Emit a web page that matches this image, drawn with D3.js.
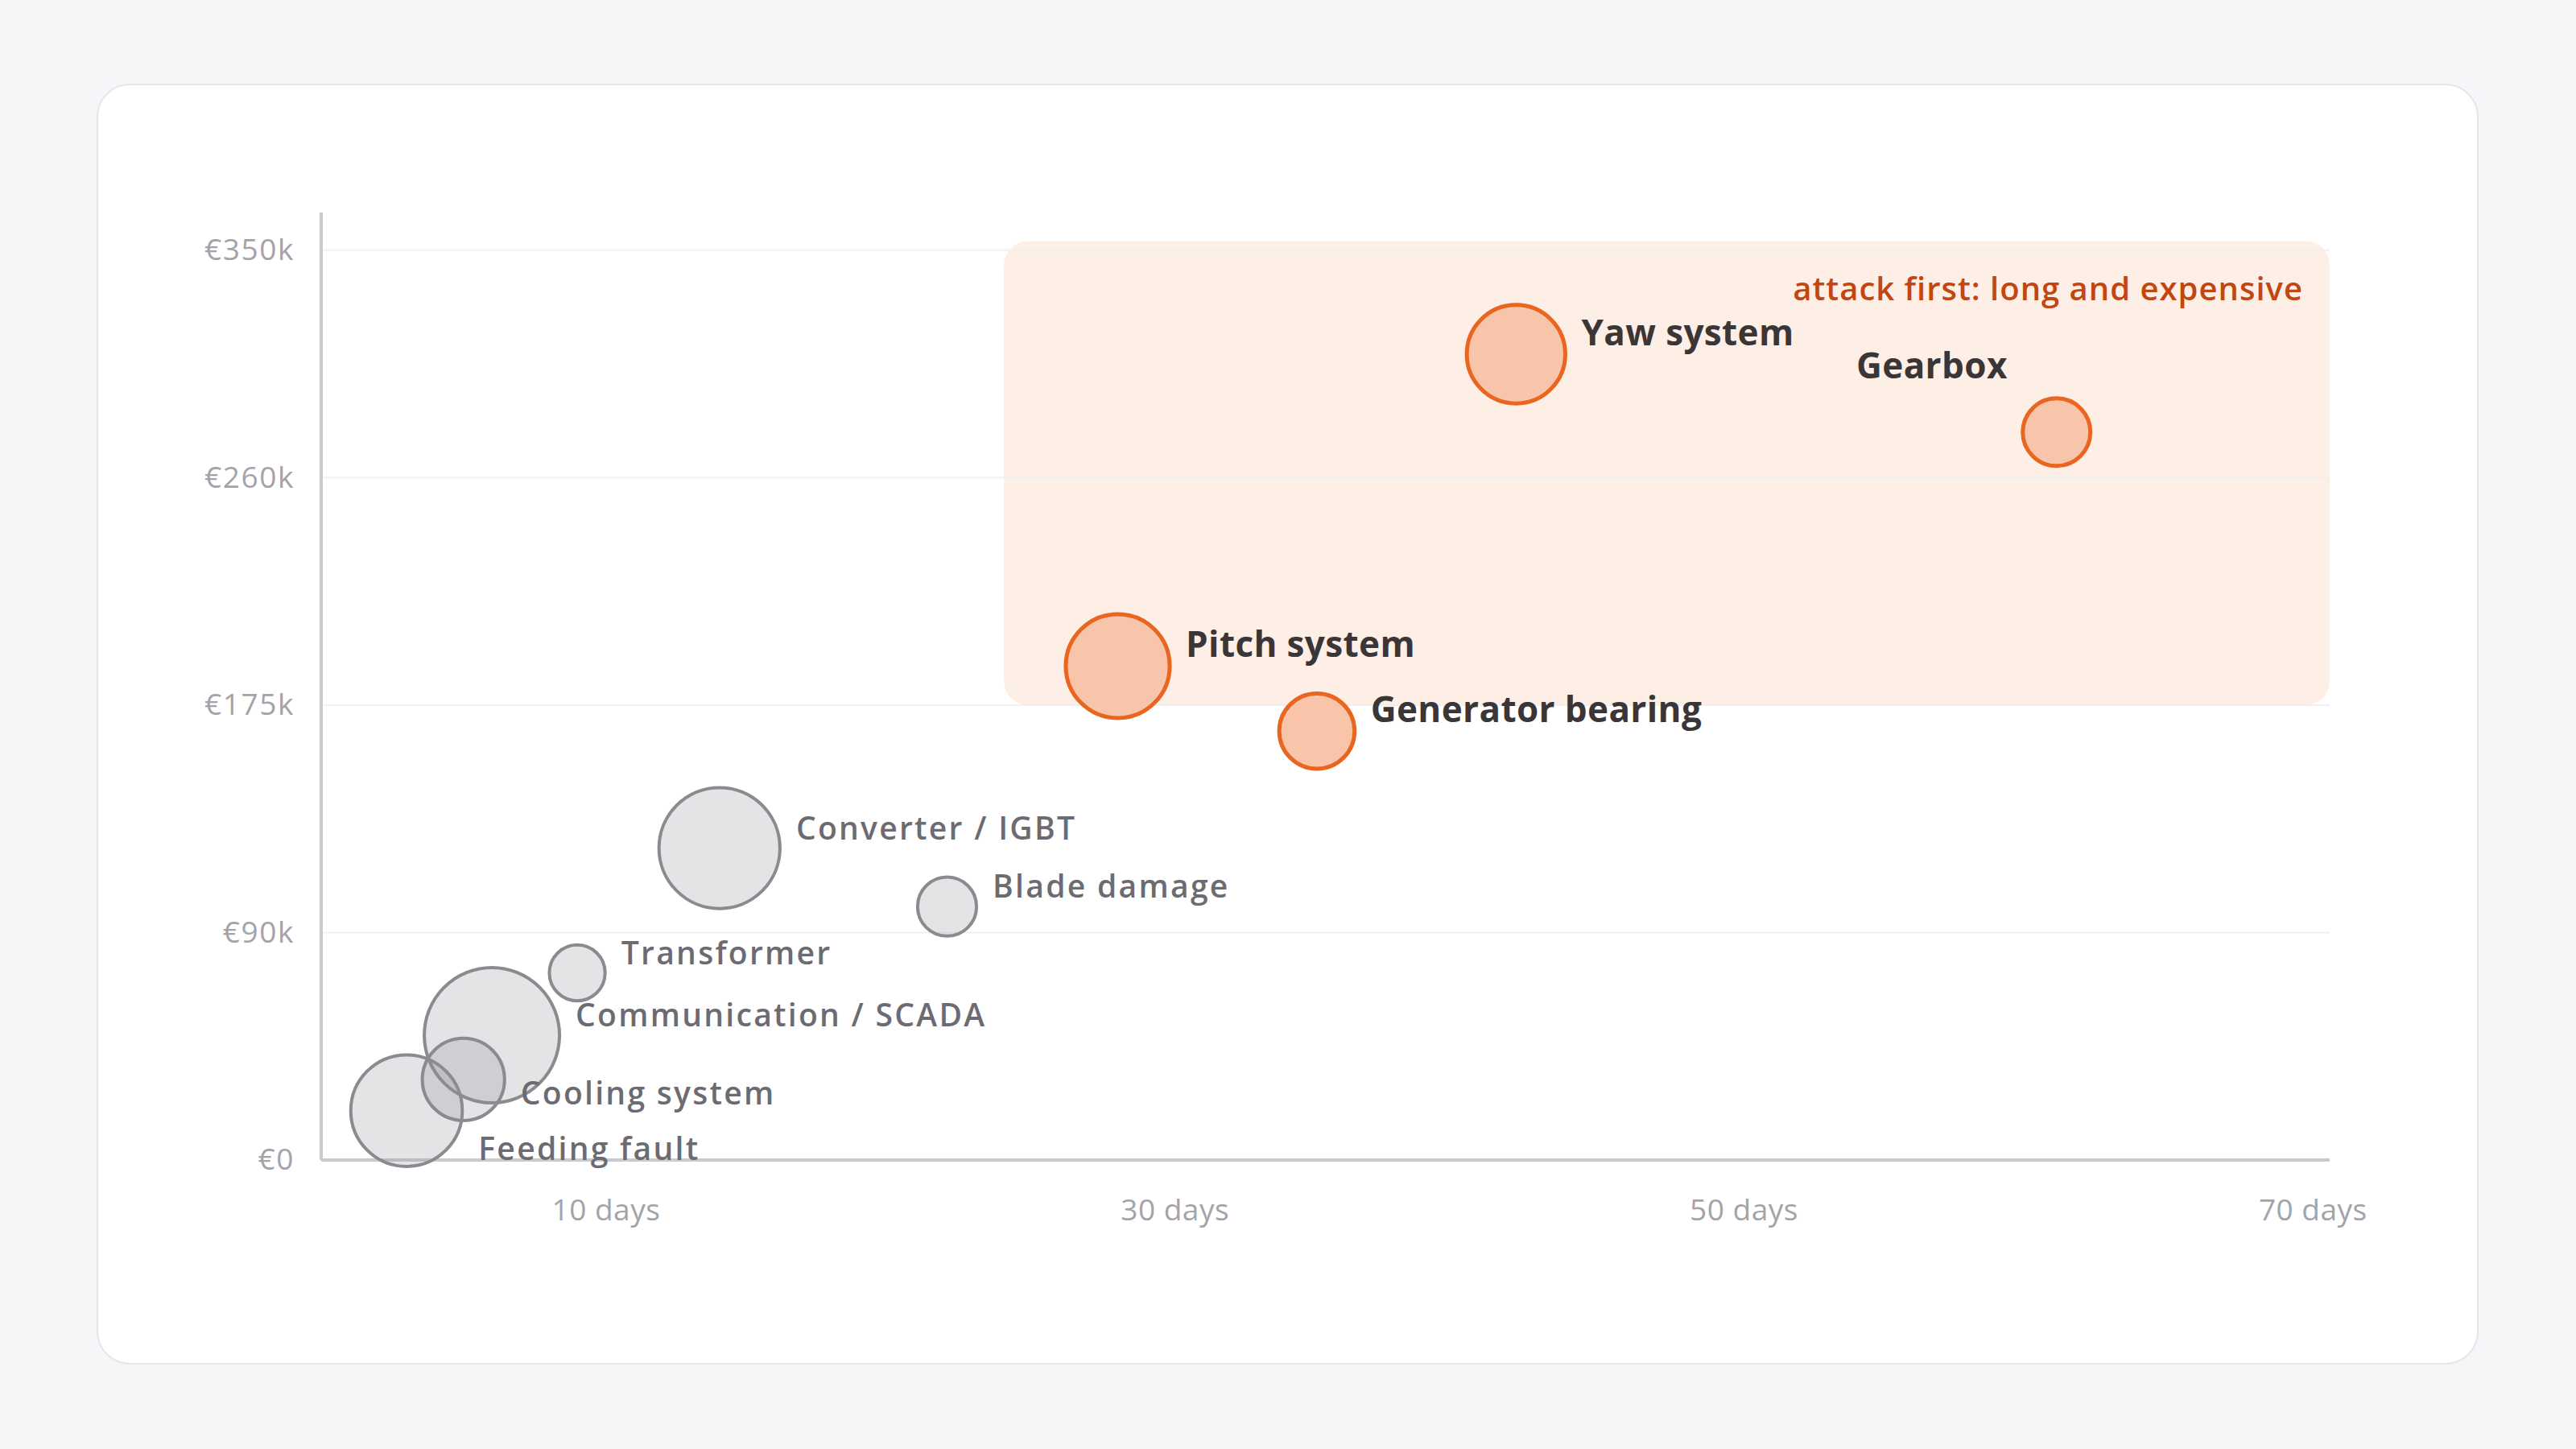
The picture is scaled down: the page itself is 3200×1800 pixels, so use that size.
<!DOCTYPE html>
<html><head><meta charset="utf-8">
<script src="https://cdn.jsdelivr.net/npm/d3@7"></script>
<style>
html,body{margin:0;padding:0;background:#f6f5f8;}
svg{display:block;}
</style></head><body>
<svg id="chart" width="3200" height="1800"></svg>
<script>
// ---- data ----
const components   = ["Feeding fault","Cooling system","Communication / SCADA","Transformer","Converter / IGBT","Blade damage","Pitch system","Generator bearing","Yaw system","Gearbox"];
const downtimeDays = [3, 5, 6, 9, 14, 22, 28, 35, 42, 61];
const costEur      = [19000, 31000, 48000, 72000, 120000, 97500, 190000, 165000, 310000, 280000];
const events       = [68, 37, 100, 17, 80, 19, 59, 31, 53, 25];
const priority     = [false,false,false,false,false,false,true,true,true,true];
const yTickValues  = [0, 87500, 175000, 262500, 350000];
const yTickLabels  = ["€0","€90k","€175k","€260k","€350k"];
const xTickValues  = [10, 30, 50, 70];
const xTickLabels  = ["10 days","30 days","50 days","70 days"];
const zoneDays     = [24, 70.6];
const zoneCost     = [175000, 353500];
const zoneNote     = "attack first: long and expensive";

// ---- layout / style ----
const W = 3200, H = 1800;
const FONT = "'Open Sans', 'Noto Sans', sans-serif";
const svg = d3.select("#chart");

svg.append("rect").attr("x",0).attr("y",0).attr("width",W).attr("height",H).attr("fill","#f6f5f8");
svg.append("rect").attr("x",121).attr("y",105).attr("width",2957).attr("height",1589)
  .attr("rx",40).attr("fill","#ffffff").attr("stroke","#e7e5eb").attr("stroke-width",2);

const x = d3.scaleLinear().domain([0, 70.6]).range([399, 2894]);
const y = d3.scaleLinear().domain([0, 364500]).range([1441, 264]);
const r = d3.scaleSqrt().domain([0, 100]).range([0, 84]);

const data = components.map((name,i)=>({name, days:downtimeDays[i], cost:costEur[i], ev:events[i], hot:priority[i]}));

// zone
svg.append("rect")
  .attr("x", x(zoneDays[0])).attr("y", y(zoneCost[1]))
  .attr("width", x(zoneDays[1]) - x(zoneDays[0]))
  .attr("height", y(zoneCost[0]) - y(zoneCost[1]))
  .attr("rx", 30).attr("fill", "#fdeee6");

// grid
svg.append("g").selectAll("line").data(yTickValues.slice(1)).join("line")
  .attr("x1", x(0)).attr("x2", x(70.6))
  .attr("y1", d=>y(d)).attr("y2", d=>y(d))
  .attr("stroke", "#eeedf1").attr("stroke-opacity",0.9).attr("stroke-width", 2);

// axes
const yAxis = d3.axisLeft(y).tickValues(yTickValues).tickFormat((d,i)=>yTickLabels[i]).tickSize(0).tickPadding(33);
const gy = svg.append("g").attr("transform", `translate(${x(0)},0)`).call(yAxis);
gy.select(".domain").remove();
gy.selectAll("text").attr("font-family", FONT).attr("font-size", 37).attr("fill", "#a4a3a9").attr("letter-spacing", 1.6);

const xAxis = d3.axisBottom(x).tickValues(xTickValues).tickFormat((d,i)=>xTickLabels[i]).tickSize(0).tickPadding(49);
const gx = svg.append("g").attr("transform", `translate(0,${y(0)})`).call(xAxis);
gx.select(".domain").remove();
gx.selectAll("text").attr("font-family", FONT).attr("font-size", 37).attr("fill", "#a4a3a9").attr("letter-spacing", 0.5);

svg.append("line").attr("x1", x(0)).attr("x2", x(0)).attr("y1", y(364500)).attr("y2", y(0))
  .attr("stroke", "#cacacd").attr("stroke-width", 4);
svg.append("line").attr("x1", x(0)).attr("x2", x(70.6)).attr("y1", y(0)).attr("y2", y(0))
  .attr("stroke", "#cacacd").attr("stroke-width", 4);

// zone note
svg.append("text")
  .attr("x", x(zoneDays[1]) - 33).attr("y", y(zoneCost[1]) + 73)
  .attr("text-anchor", "end").attr("font-family", FONT).attr("font-weight", 600)
  .attr("font-size", 40).attr("letter-spacing", 1).attr("fill", "#c2460f")
  .text(zoneNote);

// bubbles
const sorted = data.slice().sort((a,b)=>b.ev - a.ev);
svg.append("g").selectAll("circle").data(sorted).join("circle")
  .attr("cx", d=>x(d.days)).attr("cy", d=>y(d.cost)).attr("r", d=>r(d.ev))
  .attr("fill", d=>d.hot ? "#f9c5aa" : "#8d8d95")
  .attr("fill-opacity", d=>d.hot ? 1 : 0.24)
  .attr("stroke", d=>d.hot ? "#e8661f" : "#8a8a8f")
  .attr("stroke-width", d=>d.hot ? 5 : 4);

// labels
const labelAdjust = {
  "Gearbox": {side: "left", dy: -56},
  "Cooling system": {dy: 42},
  "Feeding fault": {dy: 72}
};
svg.append("g").selectAll("text").data(data).join("text")
  .attr("x", d=>{
    const a = labelAdjust[d.name] || {};
    return a.side === "left" ? x(d.days) - r(d.ev) - 19 : x(d.days) + r(d.ev) + 20;
  })
  .attr("y", d=>{
    const a = labelAdjust[d.name] || {};
    return y(d.cost) - 11 + (a.dy || 0);
  })
  .attr("text-anchor", d=>(labelAdjust[d.name]||{}).side === "left" ? "end" : "start")
  .attr("font-family", FONT)
  .attr("font-weight", d=>d.hot ? 700 : 600)
  .attr("font-size", d=>d.hot ? 44 : 39)
  .attr("letter-spacing", d=>d.hot ? 0.4 : 2.3)
  .attr("fill", d=>d.hot ? "#3a3638" : "#6c6b71")
  .text(d=>d.name);
</script>
</body></html>
